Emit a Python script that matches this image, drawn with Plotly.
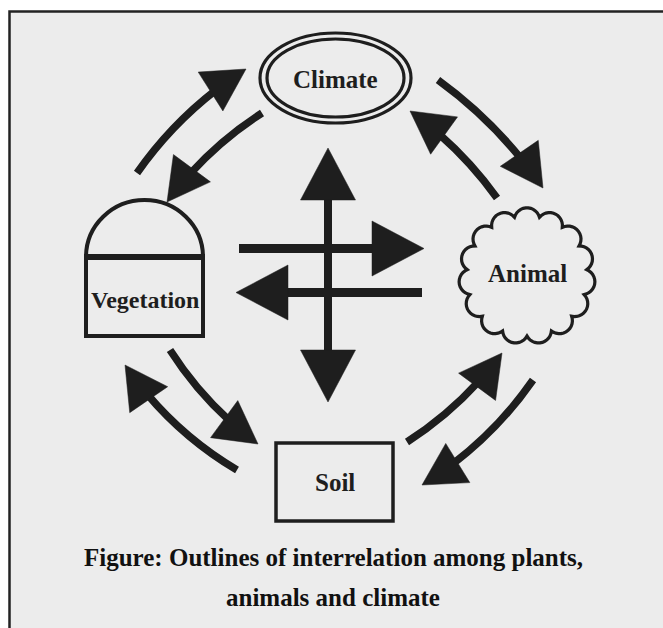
import numpy as np
import plotly.graph_objects as go

W, H = 663, 628
INK = "#1e1e1e"
BG = "#ececec"
FONT = "Liberation Serif, Times New Roman, serif"

# ---- node labels ----
node_labels = ["Climate", "Animal", "Soil", "Vegetation"]
node_label_x = [335, 527, 335, 145]
node_label_y = [79, 273, 482, 300]
node_label_size = [25, 25, 25, 24]

# ---- node outlines ----
climate_outer = [260, 33, 411, 123]
climate_inner = [267, 39, 404, 117]
animal_center = [527, 276]
animal_radius = 60
animal_bulge = 9.5
animal_lobes = 15
soil_box = [276, 443, 393, 521]
veg_box = [86, 257, 203, 336]
veg_dome_top = 200

# ---- curved arrows (tail -> tip, bend of control point) ----
arrow_tail_x = [137, 262, 438, 497, 170, 237, 407, 533]
arrow_tail_y = [173, 113, 80, 198, 350, 470, 442, 380]
arrow_tip_x = [246, 167, 543, 410, 258, 125, 502, 422]
arrow_tip_y = [69, 202, 188, 111, 444, 365, 353, 485]
arrow_bend = [-15, 12, -13, 10, 12, -17, 12, -16]

# ---- central cross arrows ----
cross_from_x = [328, 328, 239, 422]
cross_from_y = [275, 275, 248.5, 292.5]
cross_tip_x = [328, 328, 424, 236]
cross_tip_y = [148, 402, 248.5, 292.5]

caption_lines = ["Figure: Outlines of interrelation among plants,", "animals and climate"]
caption_y = [557, 597]

shapes = []


def tri_path(tip, d, L, Wd):
    tip = np.asarray(tip, float)
    base = tip - d * L
    p = np.array([-d[1], d[0]])
    a = base + p * Wd / 2
    b = base - p * Wd / 2
    return f"M {tip[0]:.2f},{tip[1]:.2f} L {a[0]:.2f},{a[1]:.2f} L {b[0]:.2f},{b[1]:.2f} Z"


# background frame
shapes.append(dict(type="rect", x0=9.5, y0=11.5, x1=W + 50, y1=H + 50,
                   fillcolor=BG, line=dict(color="#222222", width=2.5), layer="below"))

# Climate double ellipse
for box in (climate_outer, climate_inner):
    shapes.append(dict(type="circle", x0=box[0], y0=box[1], x1=box[2], y1=box[3],
                       line=dict(color=INK, width=3.2)))

# Animal scalloped cloud
cx, cy = animal_center
ang = np.linspace(0, 2 * np.pi, animal_lobes + 1) - np.pi / 2 + np.pi / animal_lobes
pts = []
for i in range(animal_lobes):
    p1 = np.array([cx + animal_radius * np.cos(ang[i]), cy + animal_radius * np.sin(ang[i])])
    p2 = np.array([cx + animal_radius * np.cos(ang[i + 1]), cy + animal_radius * np.sin(ang[i + 1])])
    mid = (p1 + p2) / 2
    L = np.linalg.norm(p2 - p1)
    s = animal_bulge
    rho = (L * L / 4 + s * s) / (2 * s)
    outward = mid - np.array([cx, cy])
    outward /= np.linalg.norm(outward)
    ctr = mid + outward * (s - rho)
    a1 = np.arctan2(p1[1] - ctr[1], p1[0] - ctr[0])
    a2 = np.arctan2(p2[1] - ctr[1], p2[0] - ctr[0])
    if a2 < a1:
        a2 += 2 * np.pi
    for t in np.linspace(a1, a2, 14):
        pts.append((ctr[0] + rho * np.cos(t), ctr[1] + rho * np.sin(t)))
path = "M " + " L ".join(f"{x:.2f},{y:.2f}" for x, y in pts) + " Z"
shapes.append(dict(type="path", path=path, line=dict(color=INK, width=3.2)))

# Soil box
shapes.append(dict(type="rect", x0=soil_box[0], y0=soil_box[1], x1=soil_box[2], y1=soil_box[3],
                   line=dict(color=INK, width=3.5)))

# Vegetation: box + dome
shapes.append(dict(type="path",
                   path=f"M {veg_box[0]},{veg_box[1]} L {veg_box[0]},{veg_box[3]} L {veg_box[2]},{veg_box[3]} L {veg_box[2]},{veg_box[1]}",
                   line=dict(color=INK, width=4)))
shapes.append(dict(type="line", x0=veg_box[0] - 2, y0=veg_box[1], x1=veg_box[2] + 2, y1=veg_box[1],
                   line=dict(color=INK, width=6)))
k = 0.5523
rx = (veg_box[2] - veg_box[0]) / 2
ry = veg_box[1] - veg_dome_top
mx = veg_box[0] + rx
dome = (f"M {veg_box[0]},{veg_box[1]} C {veg_box[0]},{veg_box[1] - k * ry:.2f} {mx - k * rx:.2f},{veg_dome_top} {mx:.2f},{veg_dome_top} "
        f"C {mx + k * rx:.2f},{veg_dome_top} {veg_box[2]},{veg_box[1] - k * ry:.2f} {veg_box[2]},{veg_box[1]}")
shapes.append(dict(type="path", path=dome, line=dict(color=INK, width=4)))

# Curved arrows
HEAD_L, HEAD_W, SHAFT = 42, 46, 7.5
for tx, ty, px, py, h in zip(arrow_tail_x, arrow_tail_y, arrow_tip_x, arrow_tip_y, arrow_bend):
    P0 = np.array([tx, ty], float)
    P2 = np.array([px, py], float)
    c = P2 - P0
    n = np.array([-c[1], c[0]]) / np.linalg.norm(c)
    P1 = (P0 + P2) / 2 + h * n
    d = (P2 - P1) / np.linalg.norm(P2 - P1)
    ts = np.linspace(0, 1, 400)
    B = ((1 - ts) ** 2)[:, None] * P0 + (2 * (1 - ts) * ts)[:, None] * P1 + (ts ** 2)[:, None] * P2
    dist = np.linalg.norm(B - P2, axis=1)
    t = ts[np.where(dist >= HEAD_L - 5)[0][-1]]
    Q1 = P0 + t * (P1 - P0)
    Q2 = (1 - t) ** 2 * P0 + 2 * (1 - t) * t * P1 + t ** 2 * P2
    shapes.append(dict(type="path",
                       path=f"M {P0[0]:.2f},{P0[1]:.2f} Q {Q1[0]:.2f},{Q1[1]:.2f} {Q2[0]:.2f},{Q2[1]:.2f}",
                       line=dict(color=INK, width=SHAFT)))
    shapes.append(dict(type="path", path=tri_path(P2, d, HEAD_L, HEAD_W),
                       fillcolor=INK, line=dict(color=INK, width=0.5)))

# Central cross
CH_L, CH_W = 52, 55
for fx, fy, px, py, sw in zip(cross_from_x, cross_from_y, cross_tip_x, cross_tip_y, [8, 8, 9, 9]):
    P0 = np.array([fx, fy], float)
    P2 = np.array([px, py], float)
    d = (P2 - P0) / np.linalg.norm(P2 - P0)
    end = P2 - d * (CH_L - 3)
    shapes.append(dict(type="line", x0=P0[0], y0=P0[1], x1=end[0], y1=end[1],
                       line=dict(color=INK, width=sw)))
    shapes.append(dict(type="path", path=tri_path(P2, d, CH_L, CH_W),
                       fillcolor=INK, line=dict(color=INK, width=0.5)))

annotations = []
for lab, x, y, sz in zip(node_labels, node_label_x, node_label_y, node_label_size):
    annotations.append(dict(x=x, y=y, xref="x", yref="y", text=f"<b>{lab}</b>", showarrow=False,
                            xanchor="center", yanchor="middle",
                            font=dict(family=FONT, size=sz, color=INK)))
for line, y in zip(caption_lines, caption_y):
    annotations.append(dict(x=333, y=y, xref="x", yref="y", text=f"<b>{line}</b>", showarrow=False,
                            xanchor="center", yanchor="middle",
                            font=dict(family=FONT, size=25, color="#111111")))

fig = go.Figure()
fig.update_layout(
    width=W, height=H, autosize=False,
    margin=dict(l=0, r=0, t=0, b=0, pad=0),
    paper_bgcolor="white", plot_bgcolor="white",
    xaxis=dict(range=[0, W], visible=False, fixedrange=True),
    yaxis=dict(range=[H, 0], visible=False, fixedrange=True),
    shapes=shapes, annotations=annotations, showlegend=False,
)
fig.write_html("out.html", config={"displayModeBar": False},
               post_script="document.body.style.margin='0px';document.body.style.overflow='hidden';")
